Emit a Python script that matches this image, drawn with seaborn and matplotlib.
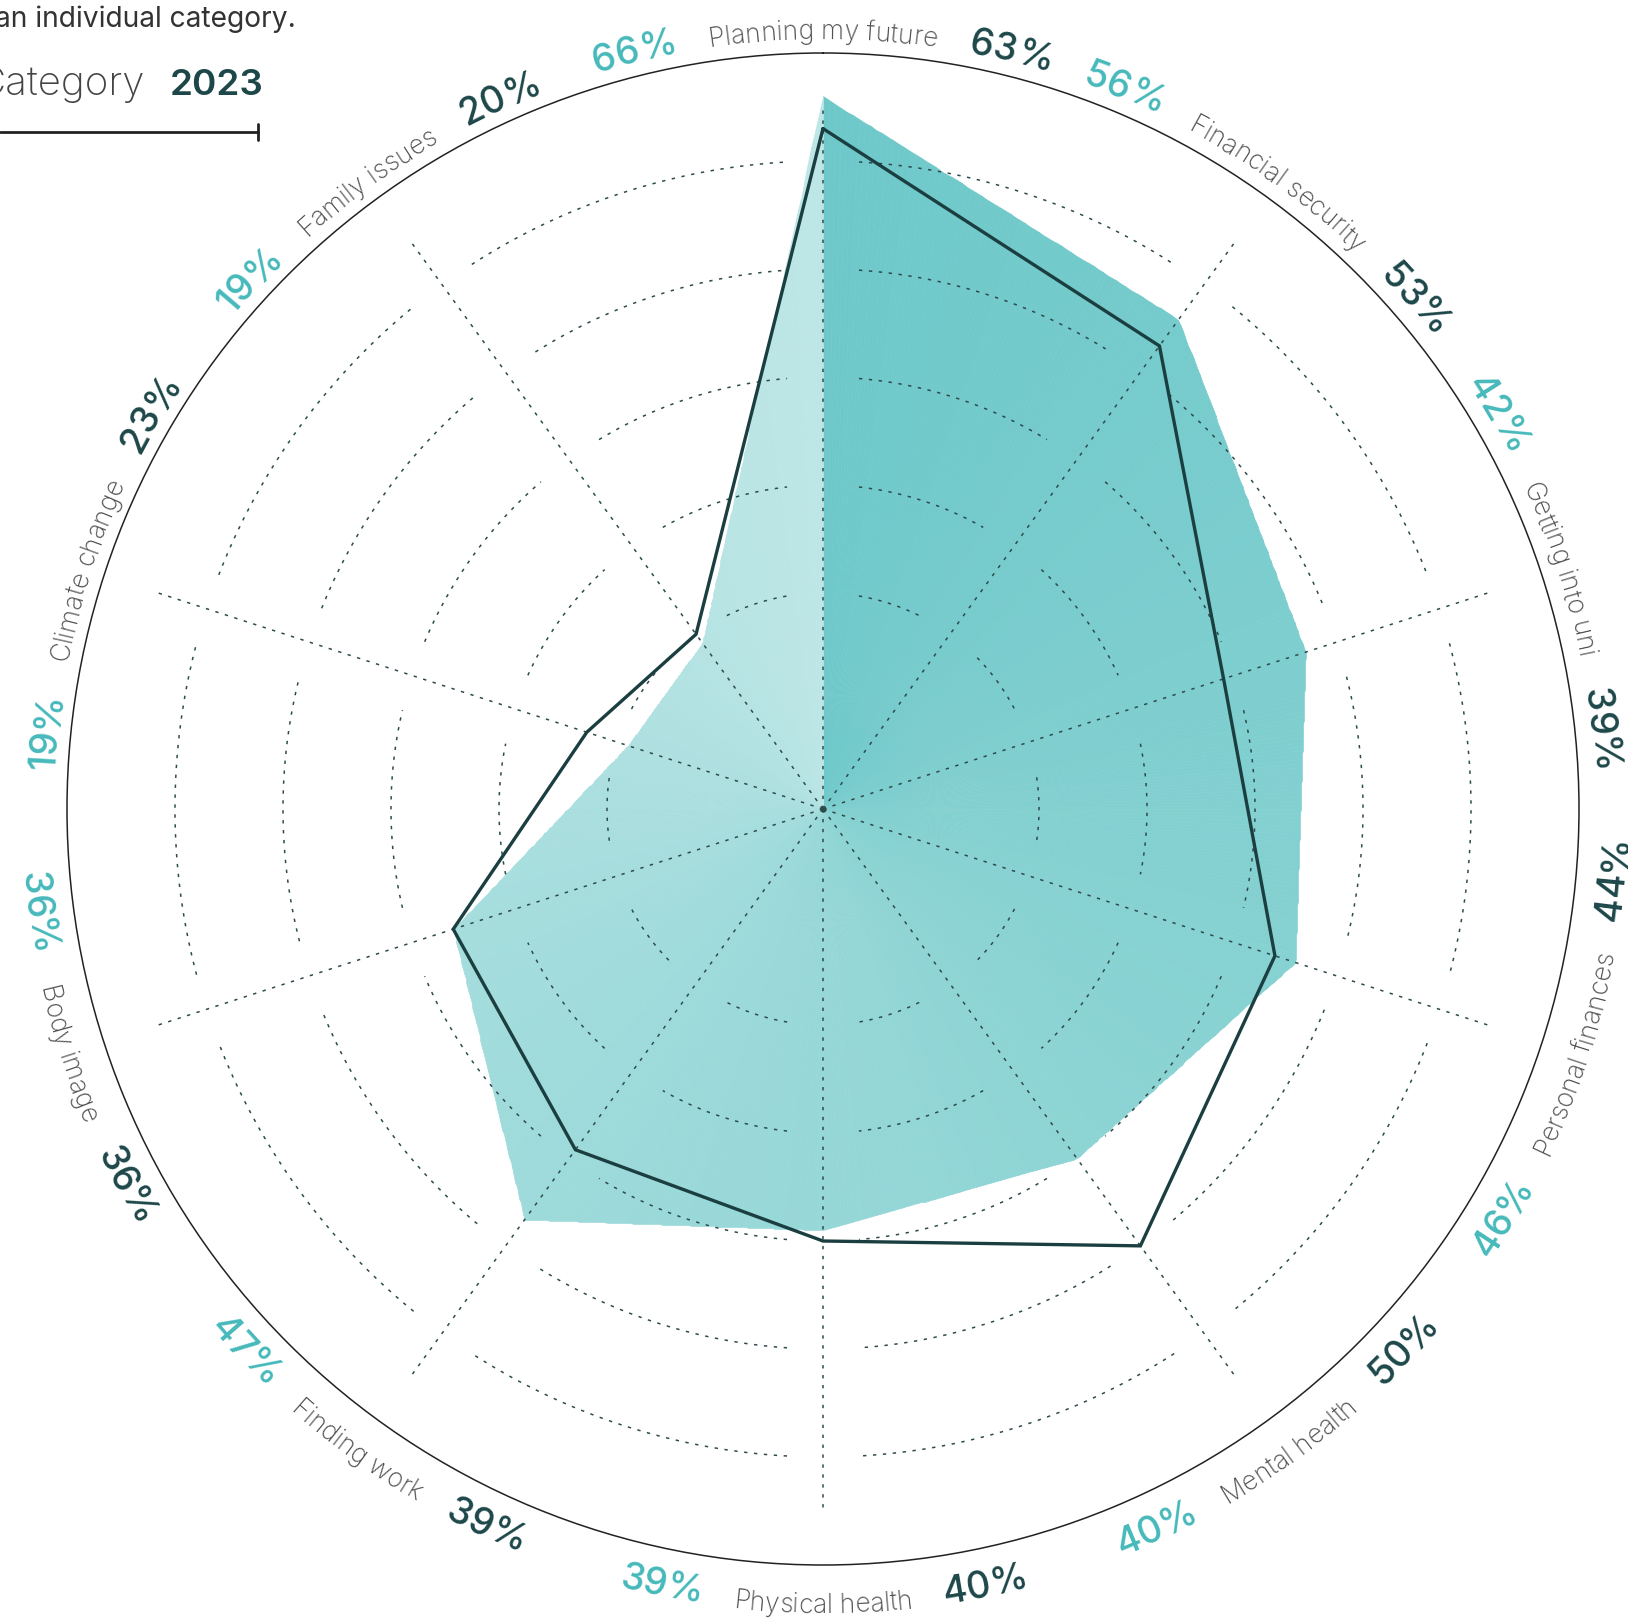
import numpy as np
import matplotlib
matplotlib.use("Agg")
import matplotlib.pyplot as plt
import seaborn as sns
from matplotlib.colors import LinearSegmentedColormap
from matplotlib.font_manager import FontProperties, findfont, get_font
from matplotlib.lines import Line2D

# Data
categories = ["Planning my future", "Financial security", "Getting into uni", "Personal finances",
              "Mental health", "Physical health", "Finding work", "Body image",
              "Climate change", "Family issues"]
prev_values = [66, 56, 47, 46, 40, 39, 47, 36, 19, 19]     # filled shape
values_2023 = [63, 53, 39, 44, 50, 40, 39, 36, 23, 20]     # outlined shape
prev_labels = ["66%", "56%", "42%", "46%", "40%", "39%", "47%", "36%", "19%", "19%"]
labels_2023 = ["63%", "53%", "39%", "44%", "50%", "40%", "39%", "36%", "23%", "20%"]
ring_levels = [20, 30, 40, 50, 60]

W, H, DPI = 1628, 1623, 100
R_MAX = 70
PX = 756 / R_MAX          # pixels per percent

TEAL = "#47b9bb"
DARK = "#1d4749"
LINE = "#1b3e40"
GRID = "#2e4b4c"
NAME = "#4e4e4e"

sns.set_theme(style="white")
plt.rcParams['font.family'] = ['Inter', 'DejaVu Sans']

fig = plt.figure(figsize=(W / DPI, H / DPI), dpi=DPI)
ax = fig.add_axes([67 / W, 58 / H, 1512 / W, 1512 / H], projection='polar')
ax.set_theta_zero_location('N')
ax.set_theta_direction(-1)

n = len(categories)
angles = np.arange(n) * 2 * np.pi / n
ang_closed = np.append(angles, 2 * np.pi)


def edge_radius(t, vals):
    # radius of the straight polygon edge at angle t
    v = np.append(vals, vals[0])
    i = np.minimum((t // (2 * np.pi / n)).astype(int), n - 1)
    t1, t2 = ang_closed[i], ang_closed[i + 1]
    r1, r2 = v[i], v[i + 1]
    return r1 * r2 * np.sin(t2 - t1) / (r1 * np.sin(t - t1) + r2 * np.sin(t2 - t))


# conic gradient fill for the earlier year
fine = np.linspace(0, 2 * np.pi, 721)
r_edge = edge_radius(np.minimum(fine, 2 * np.pi - 1e-9), np.array(prev_values, float))
X = np.vstack([fine, fine])
Y = np.vstack([np.zeros_like(fine), r_edge])
C = ((fine[:-1] + fine[1:]) / 2 / (2 * np.pi))[None, :]
cmap = LinearSegmentedColormap.from_list("fillgrad", ["#6ec8c9", "#bde6e6"])
ax.pcolormesh(X, Y, C, cmap=cmap, shading='flat', edgecolors='face', linewidth=0.4,
              antialiased=True, zorder=1)

# grid: dotted ring arcs with gaps at the spokes, dotted spokes
gap = 36 / PX
for lev in ring_levels:
    g = gap / lev
    for k in range(n):
        arc = np.linspace(angles[k] + g, angles[k] + 2 * np.pi / n - g, 100)
        ax.plot(arc, np.full_like(arc, lev), color=GRID, lw=1.1,
                linestyle=(0, (2.2, 4.3)), zorder=2)
for a in angles:
    ax.plot([a, a], [0, 65], color=GRID, lw=1.1, linestyle=(0, (2.2, 4.3)), zorder=2)
ax.plot([0], [0], 'o', color=GRID, markersize=3.5, zorder=3)

# 2023 outline
ax.plot(ang_closed, np.append(values_2023, values_2023[0]), color=LINE, lw=2.4,
        solid_joinstyle='miter', zorder=4)

ax.set_ylim(0, R_MAX)
ax.set_xticks([])
ax.set_yticks([])
ax.grid(False)
ax.spines['polar'].set_color('#222222')
ax.spines['polar'].set_linewidth(1.1)


def advances(s, prop):
    font = get_font(findfont(prop))
    font.set_size(prop.get_size_in_points(), DPI)
    return np.array([font.load_char(ord(c)).linearHoriAdvance / 65536 for c in s])


def curved_text(s, phi, r_px, direction, prop, color):
    # phi: centre angle (rad, clockwise from top); direction +1 clockwise reading
    adv = advances(s, prop)
    offs = np.cumsum(adv) - adv / 2 - adv.sum() / 2
    for c, o in zip(s, offs):
        a = phi + direction * o / r_px
        deg = np.degrees(a)
        rot = -deg if direction > 0 else 180 - deg
        ax.text(a, r_px / PX, c, rotation=rot, rotation_mode='anchor', ha='center',
                va='baseline', fontproperties=prop, color=color, zorder=5)
    return adv.sum()


name_prop = FontProperties(family=['Inter', 'DejaVu Sans'], size=19, weight='light')
pct_prop = FontProperties(family=['Inter', 'DejaVu Sans'], size=27, weight='medium')
GAP_PX = 32

for k, a in enumerate(angles):
    deg = np.degrees(a)
    top = deg <= 90 or deg >= 270
    direction = 1 if top else -1
    r_px = 770 if top else 804
    wn = advances(categories[k], name_prop).sum()
    wt = advances(prev_labels[k], pct_prop).sum()
    wd = advances(labels_2023[k], pct_prop).sum()
    curved_text(categories[k], a, r_px, direction, name_prop, NAME)
    curved_text(prev_labels[k], a - direction * (wn / 2 + GAP_PX + wt / 2) / r_px,
                r_px, direction, pct_prop, TEAL)
    curved_text(labels_2023[k], a + direction * (wn / 2 + GAP_PX + wd / 2) / r_px,
                r_px, direction, pct_prop, DARK)

# legend fragment in the top-left corner
fig.text(296 / W, 1 - 27 / H, "an individual category.", ha='right', va='baseline',
         size=20.3, color='#333333')
fig.text(145 / W, 1 - 95 / H, "Category", ha='right', va='baseline', size=29,
         color='#444444', weight='light')
fig.text(170 / W, 1 - 95 / H, "2023", ha='left', va='baseline', size=26.5,
         color=DARK, weight='semibold')
fig.add_artist(Line2D([0, 258 / W], [1 - 132 / H, 1 - 132 / H], color='#222222', lw=2))
fig.add_artist(Line2D([258 / W, 258 / W], [1 - 124 / H, 1 - 140 / H], color='#222222', lw=2))

fig.savefig("out.png", dpi=DPI, facecolor='white')
